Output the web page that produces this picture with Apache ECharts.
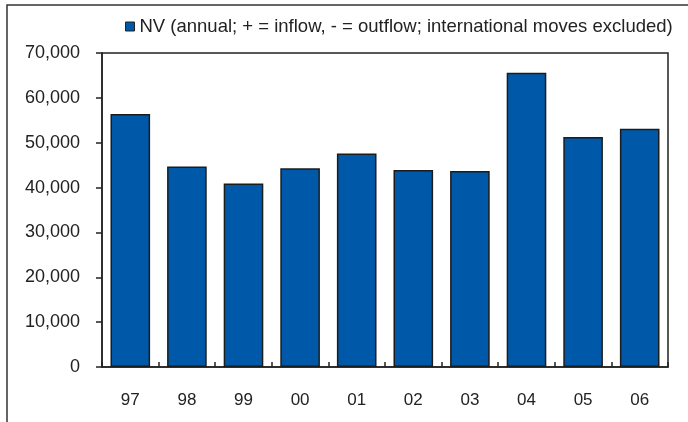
<!DOCTYPE html>
<html>
<head>
<meta charset="utf-8">
<script src="https://cdn.jsdelivr.net/npm/echarts@6/dist/echarts.min.js"></script>
<style>
html,body{margin:0;padding:0;background:#fff;}
#chart{width:688px;height:422px;}
</style>
</head>
<body>
<div id="chart"></div>
<script>
var categories = ['97','98','99','00','01','02','03','04','05','06'];
var nvValues = [56400, 44700, 40900, 44300, 47600, 43900, 43700, 65600, 51300, 53100];
var seriesName = 'NV (annual; + = inflow, - = outflow; international moves excluded)';
var yTicks = {min: 0, max: 70000, interval: 10000};

var FONT = '"Liberation Sans", Arial, sans-serif';
var chart = echarts.init(document.getElementById('chart'));
chart.setOption({
  animation: false,
  backgroundColor: '#ffffff',
  graphic: [{
    type: 'rect',
    shape: {x: 7, y: 5, width: 720, height: 440},
    style: {fill: 'none', stroke: '#333', lineWidth: 1.5},
    silent: true
  }],
  legend: {
    left: 125,
    top: 17,
    padding: 0,
    itemWidth: 9,
    itemHeight: 9,
    icon: 'rect',
    itemStyle: {borderColor: '#222', borderWidth: 1},
    textStyle: {fontFamily: FONT, fontSize: 18.5, color: '#222'},
    data: [seriesName]
  },
  grid: {
    left: 102, right: 20, top: 53, bottom: 55,
    show: true, borderColor: '#222', borderWidth: 1.5, backgroundColor: 'transparent'
  },
  xAxis: {
    type: 'category',
    data: categories,
    boundaryGap: true,
    axisLine: {lineStyle: {color: '#222', width: 1.5}},
    axisTick: {show: true, inside: true, length: 5, alignWithLabel: false, lineStyle: {color: '#222', width: 1.5}},
    axisLabel: {margin: 25, fontFamily: FONT, fontSize: 17, color: '#222'}
  },
  yAxis: {
    type: 'value',
    min: yTicks.min, max: yTicks.max, interval: yTicks.interval,
    axisLine: {show: true, lineStyle: {color: '#222', width: 1.5}},
    axisTick: {show: true, inside: false, length: 6, lineStyle: {color: '#222', width: 1.5}},
    splitLine: {show: false},
    axisLabel: {
      margin: 22, fontFamily: FONT, fontSize: 18, color: '#222',
      formatter: function (v) { return v.toLocaleString('en-US'); }
    }
  },
  series: [{
    name: seriesName,
    type: 'bar',
    data: nvValues,
    barCategoryGap: '30%',
    itemStyle: {color: '#0059a8', borderColor: '#1c1c1c', borderWidth: 1.5}
  }]
});
</script>
</body>
</html>
